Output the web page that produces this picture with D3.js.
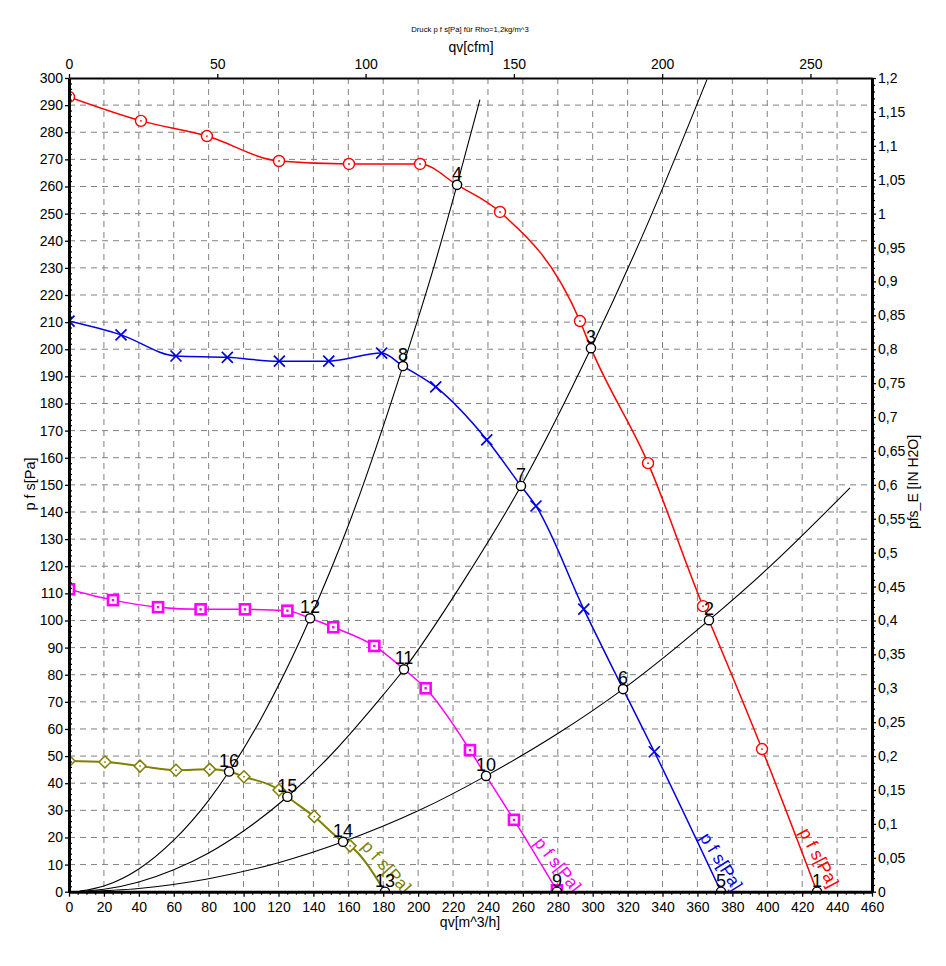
<!DOCTYPE html>
<html><head><meta charset="utf-8">
<script src="https://cdn.jsdelivr.net/npm/d3@7/dist/d3.min.js"></script>
<style>
body{margin:0;background:#fff;}
svg{display:block;font-family:"Liberation Sans",Arial,sans-serif;}
</style>
</head><body>
<svg id="c" width="946" height="966"></svg>
<script>
// ---------- DATA ----------
const qvTicks = [0,20,40,60,80,100,120,140,160,180,200,220,240,260,280,300,320,340,360,380,400,420,440,460];
const pTicks = [0,10,20,30,40,50,60,70,80,90,100,110,120,130,140,150,160,170,180,190,200,210,220,230,240,250,260,270,280,290,300];
const inH2OTicks = [0,0.05,0.1,0.15,0.2,0.25,0.3,0.35,0.4,0.45,0.5,0.55,0.6,0.65,0.7,0.75,0.8,0.85,0.9,0.95,1,1.05,1.1,1.15,1.2];
const cfmTicks = [0,50,100,150,200,250];

// fan curves (markers)
const redQ = [0,41.2,79,120.3,160.4,201.1,246.9,292.7,331.7,363.2,397];
const redP = [293,284.2,278.6,269.4,268.3,268.3,250.6,210.4,158,105.3,52.6];
const blueQ = [0,29.8,61.3,90.7,120.5,148.8,179.1,210.1,239.3,267.5,294.9,335.3];
const blueP = [210.4,205.3,197.5,197,195.6,195.6,198.6,186.1,166.6,142.2,104.2,51.6];
const magQ = [0,25.2,51,75.4,100.8,125.1,151.4,174.9,204.3,229.7,254.9,279.5];
const magP = [111.5,107.5,104.9,104.1,104.1,103.6,97.5,90.6,75,52.2,26.5,0.5];
const oliveQ = [0,20.6,40.7,61.3,80.6,100.2,120.3,140.5,161];
const oliveP = [48.2,47.8,46.3,44.8,45.1,42.4,37.5,27.7,16.9];

// operating points 1..16
const opNum = [1,2,3,4,5,6,7,8,9,10,11,12,13,14,15,16];
const opQ = [428.5,366.6,299,222.3,373.5,317.4,258.9,191.3,279.5,238.9,191.9,138.1,181,157,125.1,91.7];
const opP = [0,100.1,200.4,260.6,0,74.7,149.6,193.8,0,42.7,82,100.8,0,18.4,35,44.3];

// system curves
const sysAQ = [6,20,40,60,80,91.7,110,138.1,160,191.3,210,222.3,235.4];
const sysAP = [0.2,2.1,8.4,19,33.7,44.3,63.8,100.8,135,193.8,232.5,260.6,292];
const sysBQ = [6,20,40,60,80,100,125.1,150,175,191.9,225,258.9,299,330,365.5];
const sysBP = [0.1,0.9,3.6,8.1,14.3,22.4,35,50.4,68.7,82,113.5,149.6,200.4,244.1,299.5];
const sysCQ = [6,40,80,120,157,200,238.9,280,317.4,366.6,400,447.4];
const sysCP = [0.03,1.2,4.8,10.7,18.4,29.8,42.7,58.3,74.7,100.1,119,148.9];

// ---------- STYLE / LAYOUT ----------
const fans = [
  {q:redQ, p:redP, ops:[1,2,3,4], color:"#ff0000", marker:"circle", lw:1.5, lab:{q:418,p:22,rot:62}},
  {q:blueQ, p:blueP, ops:[5,6,7,8], color:"#0000e6", marker:"x", lw:1.5, lab:{q:361,p:20,rot:58}},
  {q:magQ, p:magP, ops:[9,10,11,12], color:"#ff00ff", marker:"square", lw:1.5, lab:{q:266,p:18,rot:52}},
  {q:oliveQ, p:oliveP, ops:[13,14,15,16], color:"#808000", marker:"diamond", lw:2, lab:{q:167,p:16.5,rot:48}}
];
const systems = [[sysAQ,sysAP],[sysBQ,sysBP],[sysCQ,sysCP]];

const L=69, R=872, T=78, B=891.7;
const svg = d3.select("#c");
const x = d3.scaleLinear().domain([0,460]).range([L,R]);
const y = d3.scaleLinear().domain([0,300]).range([B,T]);
const yR = d3.scaleLinear().domain([0,1.2]).range([B,T]);
const xTop = d3.scaleLinear().domain([0,460*0.58858]).range([L,R]);

svg.append("defs").append("clipPath").attr("id","plot")
  .append("rect").attr("x",L).attr("y",T).attr("width",R-L).attr("height",B-T);

// grid
const grid = svg.append("g").attr("stroke","#808080").attr("stroke-width",1).attr("stroke-dasharray","6,5");
qvTicks.filter(v=>v>0 && v<460).forEach(v=>{
  grid.append("line").attr("x1",x(v)).attr("x2",x(v)).attr("y1",T).attr("y2",B);
});
pTicks.filter(v=>v>0 && v<300).forEach(v=>{
  grid.append("line").attr("x1",L).attr("x2",R).attr("y1",y(v)).attr("y2",y(v));
});

const plot = svg.append("g").attr("clip-path","url(#plot)");
const line = d3.line().x(d=>x(d[0])).y(d=>y(d[1])).curve(d3.curveMonotoneX);

// system curves
systems.forEach(([qs,ps])=>{
  plot.append("path").datum(qs.map((q,i)=>[q,ps[i]])).attr("d",line)
    .attr("fill","none").attr("stroke","#000").attr("stroke-width",1.1);
});

// fan curves
fans.forEach(f=>{
  let pts = f.q.map((q,i)=>[q,f.p[i]]);
  f.ops.forEach(n=>{ const i=n-1; pts.push([opQ[i],opP[i]]); });
  pts.sort((a,b)=>a[0]-b[0]);
  pts = pts.filter((d,i)=> i===0 || Math.abs(d[0]-pts[i-1][0])>0.5);
  plot.append("path").datum(pts).attr("d",line)
    .attr("fill","none").attr("stroke",f.color).attr("stroke-width",f.lw);
});

// markers
fans.forEach(f=>{
  const g = plot.append("g").attr("stroke",f.color).attr("fill","#fff");
  f.q.forEach((q,i)=>{
    const cx=x(q), cy=y(f.p[i]);
    if(f.marker==="circle"){
      g.append("circle").attr("cx",cx).attr("cy",cy).attr("r",5.5).attr("stroke-width",1.4);
      g.append("circle").attr("cx",cx).attr("cy",cy).attr("r",0.9).attr("fill",f.color).attr("stroke","none");
    } else if(f.marker==="x"){
      g.append("path").attr("d",`M${cx-5.5},${cy-5.5}L${cx+5.5},${cy+5.5}M${cx-5.5},${cy+5.5}L${cx+5.5},${cy-5.5}`)
        .attr("stroke-width",1.7).attr("fill","none");
    } else if(f.marker==="square"){
      g.append("rect").attr("x",cx-5).attr("y",cy-5).attr("width",10).attr("height",10).attr("stroke-width",2.6);
      g.append("rect").attr("x",cx-1.2).attr("y",cy-1.2).attr("width",2.4).attr("height",2.4).attr("fill",f.color).attr("stroke","none");
    } else {
      g.append("path").attr("d",`M${cx},${cy-6}L${cx+6},${cy}L${cx},${cy+6}L${cx-6},${cy}Z`).attr("stroke-width",1.5);
      g.append("circle").attr("cx",cx).attr("cy",cy).attr("r",0.9).attr("fill",f.color).attr("stroke","none");
    }
  });
});

// curve labels
fans.forEach(f=>{
  plot.append("text").attr("transform",`translate(${x(f.lab.q)},${y(f.lab.p)}) rotate(${f.lab.rot})`)
    .attr("font-size",17.5).attr("fill",f.color).text("p f s[Pa]");
});

// operating points
opNum.forEach((n,i)=>{
  plot.append("circle").attr("cx",x(opQ[i])).attr("cy",y(opP[i])).attr("r",4.6)
    .attr("fill","#fff").attr("stroke","#000").attr("stroke-width",1.4);
});
opNum.forEach((n,i)=>{
  svg.append("text").attr("x",x(opQ[i])).attr("y",y(opP[i])-5).attr("text-anchor","middle")
    .attr("font-size",18).attr("fill","#000").text(n);
});

// ---------- AXES ----------
function styleAxis(g,w){
  g.select(".domain").attr("stroke","#000").attr("stroke-width",w);
  g.selectAll(".tick line").attr("stroke","#000").attr("stroke-width",1.3);
  g.selectAll(".tick text").attr("font-size",14).attr("fill","#000").attr("font-family","Liberation Sans, Arial, sans-serif");
}
function minor(from,to,step,majors){
  const out=[];
  for(let v=from; v<=to+1e-9; v+=step){ const r=Math.round(v*1000)/1000; if(!majors.some(m=>Math.abs(m-r)<1e-6)) out.push(r); }
  return out;
}
// bottom
const gB = svg.append("g").attr("transform",`translate(0,${B})`);
gB.call(d3.axisBottom(x).tickValues(minor(0,460,5,qvTicks)).tickSize(3).tickFormat(""));
gB.select(".domain").remove(); gB.selectAll(".tick line").attr("stroke","#000").attr("stroke-width",1.2);
const gB2 = svg.append("g").attr("transform",`translate(0,${B})`)
  .call(d3.axisBottom(x).tickValues(qvTicks).tickSize(5).tickSizeOuter(0).tickPadding(5).tickFormat(d=>d));
styleAxis(gB2,3);
// left
const gL = svg.append("g").attr("transform",`translate(${L},0)`);
gL.call(d3.axisLeft(y).tickValues(minor(0,300,2,pTicks)).tickSize(-3).tickFormat(""));
gL.select(".domain").remove(); gL.selectAll(".tick line").attr("stroke","#000").attr("stroke-width",1.2);
const gL2 = svg.append("g").attr("transform",`translate(${L},0)`)
  .call(d3.axisLeft(y).tickValues(pTicks).tickSize(4).tickSizeOuter(0).tickPadding(2).tickFormat(d=>d));
styleAxis(gL2,3);
// right
const gR = svg.append("g").attr("transform",`translate(${R},0)`);
gR.call(d3.axisRight(yR).tickValues(minor(0,1.2,0.01,inH2OTicks)).tickSize(3).tickFormat(""));
gR.select(".domain").remove(); gR.selectAll(".tick line").attr("stroke","#000").attr("stroke-width",1.2);
const gR2 = svg.append("g").attr("transform",`translate(${R},0)`)
  .call(d3.axisRight(yR).tickValues(inH2OTicks).tickSize(4).tickSizeOuter(0).tickPadding(2)
    .tickFormat(d=>String(Math.round(d*100)/100).replace(".",",")));
styleAxis(gR2,3);
// top
const gT = svg.append("g").attr("transform",`translate(0,${T})`)
  .call(d3.axisTop(xTop).tickValues(cfmTicks).tickSize(4).tickSizeOuter(0).tickPadding(5).tickFormat(d=>d));
styleAxis(gT,2);

// titles
svg.append("text").attr("x",470).attr("y",32).attr("text-anchor","middle").attr("font-size",7.7)
  .text("Druck p f s[Pa] für Rho=1,2kg/m^3");
svg.append("text").attr("x",471).attr("y",52).attr("text-anchor","middle").attr("font-size",14).text("qv[cfm]");
svg.append("text").attr("x",470).attr("y",927).attr("text-anchor","middle").attr("font-size",14).text("qv[m^3/h]");
svg.append("text").attr("transform","translate(35,484) rotate(-90)").attr("text-anchor","middle").attr("font-size",14.5).text("p f s[Pa]");
svg.append("text").attr("transform","translate(918,482) rotate(-90)").attr("text-anchor","middle").attr("font-size",14).text("pfs_E [IN H2O]");
</script>
</body></html>
